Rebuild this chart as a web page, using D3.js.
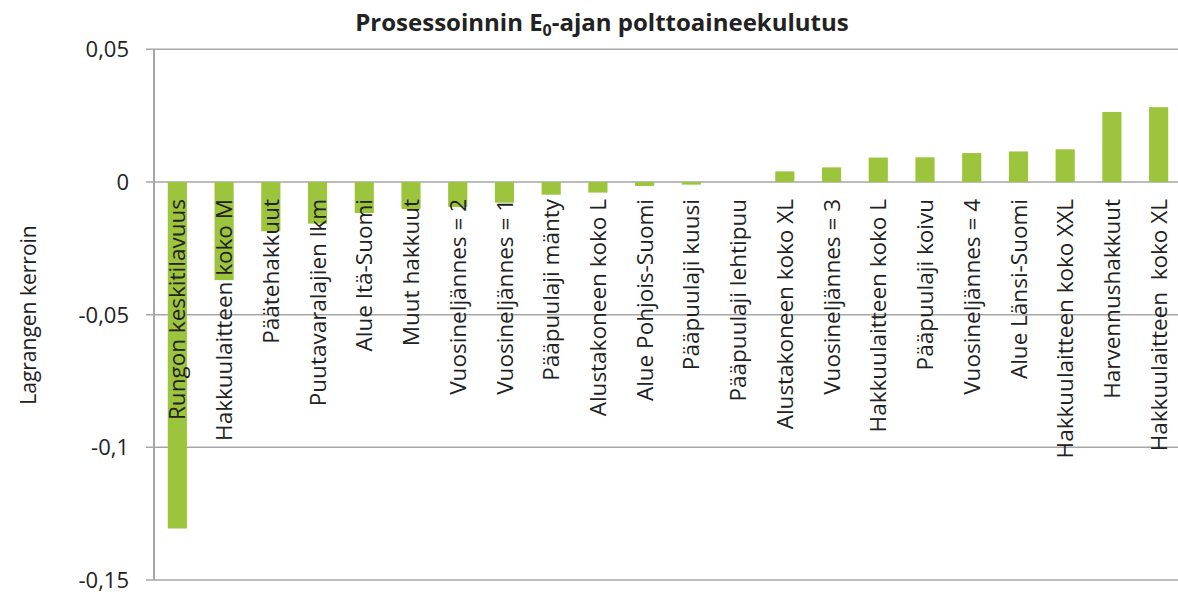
<!DOCTYPE html>
<html>
<head>
<meta charset="utf-8">
<script src="https://cdn.jsdelivr.net/npm/d3@7"></script>
<style>
  body { margin: 0; background: #fff; }
  svg { display: block; font-family: "Open Sans", sans-serif; }
</style>
</head>
<body>
<div id="chart"></div>
<script>
// Lagrange coefficients
const categories = [
  'Rungon keskitilavuus', 'Hakkuulaitteen koko M', 'Päätehakkuut', 'Puutavaralajien lkm',
  'Alue Itä-Suomi', 'Muut hakkuut', 'Vuosineljännes = 2', 'Vuosineljännes = 1',
  'Pääpuulaji mänty', 'Alustakoneen koko L', 'Alue Pohjois-Suomi', 'Pääpuulaji kuusi',
  'Pääpuulaji lehtipuu', 'Alustakoneen koko XL', 'Vuosineljännes = 3', 'Hakkuulaitteen koko L',
  'Pääpuulaji koivu', 'Vuosineljännes = 4', 'Alue Länsi-Suomi', 'Hakkuulaitteen koko XXL',
  'Harvennushakkuut', 'Hakkuulaitteen  koko XL'
];
const values = [
  -0.1306, -0.0370, -0.0186, -0.0157, -0.0117, -0.0102, -0.0094, -0.0078,
  -0.0048, -0.0040, -0.0015, -0.0010, 0.0, 0.0040, 0.0055, 0.0092,
  0.0093, 0.0109, 0.0115, 0.0123, 0.0264, 0.0282
];
const yTicks = [0.05, 0, -0.05, -0.1, -0.15];
const yTickLabels = ['0,05', '0', '-0,05', '-0,1', '-0,15'];

const width = 1178, height = 594;
const plotLeft = 154, plotRight = 1182, plotTop = 49.3, plotBottom = 580;

const svg = d3.select('#chart').append('svg')
  .attr('width', width)
  .attr('height', height);

const x = d3.scaleBand().domain(categories).range([plotLeft, plotRight]).padding(0);
const y = d3.scaleLinear().domain([-0.15, 0.05]).range([plotBottom, plotTop]);

const barW = x.bandwidth() * 0.41;

// gridlines
svg.append('g')
  .selectAll('line')
  .data(yTicks)
  .enter().append('line')
  .attr('x1', plotLeft - 8)
  .attr('x2', width)
  .attr('y1', d => y(d))
  .attr('y2', d => y(d))
  .attr('stroke', '#a6a6a6')
  .attr('stroke-width', 1.5);

// y axis line
svg.append('line')
  .attr('x1', plotLeft).attr('x2', plotLeft)
  .attr('y1', y(0.05)).attr('y2', y(-0.15))
  .attr('stroke', '#a6a6a6')
  .attr('stroke-width', 2);

// tick labels
svg.append('g')
  .selectAll('text')
  .data(yTicks)
  .enter().append('text')
  .attr('x', 129)
  .attr('y', d => y(d))
  .attr('dy', '0.36em')
  .attr('text-anchor', 'end')
  .attr('font-size', 22)
  .attr('fill', '#222')
  .text((d, i) => yTickLabels[i]);

// bars
svg.append('g')
  .selectAll('rect')
  .data(values)
  .enter().append('rect')
  .attr('x', (d, i) => x(categories[i]) + (x.bandwidth() - barW) / 2)
  .attr('y', d => y(Math.max(0, d)))
  .attr('width', barW)
  .attr('height', d => Math.abs(y(d) - y(0)))
  .attr('fill', '#9dc43d');

// category labels, rotated
svg.append('g')
  .selectAll('text')
  .data(categories)
  .enter().append('text')
  .attr('transform', d => `translate(${x(d) + x.bandwidth() / 2},199) rotate(-90)`)
  .attr('dy', '0.36em')
  .attr('text-anchor', 'end')
  .attr('font-size', 22.5)
  .attr('fill', '#222')
  .style('white-space', 'pre')
  .text(d => d);

// title
const title = svg.append('text')
  .attr('x', 602)
  .attr('y', 31)
  .attr('text-anchor', 'middle')
  .attr('font-size', 24)
  .attr('font-weight', 'bold')
  .attr('fill', '#222');
title.append('tspan').text('Prosessoinnin E');
title.append('tspan').attr('font-size', 16).attr('dy', 5).text('0');
title.append('tspan').attr('dy', -5).text('-ajan polttoaineekulutus');

// y axis title
svg.append('text')
  .attr('transform', 'translate(28,315) rotate(-90)')
  .attr('dy', '0.36em')
  .attr('text-anchor', 'middle')
  .attr('font-size', 21)
  .attr('fill', '#222')
  .text('Lagrangen kerroin');
</script>
</body>
</html>
